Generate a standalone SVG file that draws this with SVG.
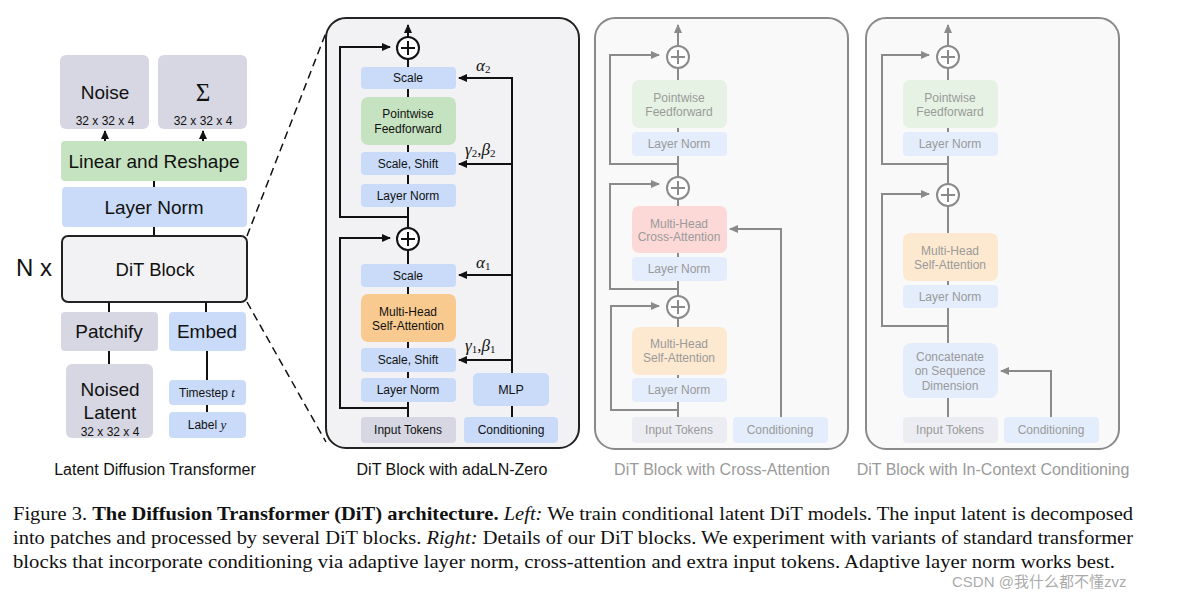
<svg xmlns="http://www.w3.org/2000/svg" width="1184" height="592" viewBox="0 0 1184 592">
<defs>
<marker id="ab" markerUnits="userSpaceOnUse" markerWidth="9" markerHeight="8" refX="8" refY="4" orient="auto"><path d="M0,0 L9,4 L0,8 z" fill="#111"/></marker>
<marker id="ag" markerUnits="userSpaceOnUse" markerWidth="9" markerHeight="8" refX="8" refY="4" orient="auto"><path d="M0,0 L9,4 L0,8 z" fill="#8a8a8a"/></marker>
<style>
text{font-family:"Liberation Sans",Arial,sans-serif;text-anchor:middle;fill:#111}
.big{font-size:19px}
.sm{font-size:12px}
.s12{font-size:12px}
.g text,.gt{fill:#9a9a9a}
.blk{stroke:#111;stroke-width:2;fill:none}
.gry{stroke:#8a8a8a;stroke-width:2;fill:none}
.gray{fill:#d6d7e3}.blue{fill:#c9dbf9}.green{fill:#c6e3c1}.orange{fill:#f8ca8f}
.lgray{fill:#ecedf2}.lblue{fill:#e4edfc}.lgreen{fill:#e6f2e3}.lorange{fill:#fde9d0}.lpink{fill:#fcd9d7}
.math{font-family:"Liberation Serif","Times New Roman",serif;font-style:italic;font-size:17px;text-anchor:start}
.sub{font-size:11px;font-style:normal}
.cap{font-family:"Liberation Serif","Times New Roman",serif;font-size:19.5px;text-anchor:start}
</style>
</defs>
<rect width="1184" height="592" fill="#fff"/>

<!-- panel backgrounds -->
<g id="panel-adaln"><rect x="326" y="18" width="253" height="430" rx="20" fill="#f2f2f4" stroke="#222" stroke-width="2"/></g>
<g id="panel-cross"><rect x="595" y="18" width="253" height="431" rx="20" fill="#f9f9f9" stroke="#8a8a8a" stroke-width="2"/></g>
<g id="panel-incontext"><rect x="866" y="18" width="253" height="431" rx="20" fill="#f9f9f9" stroke="#8a8a8a" stroke-width="2"/></g>

<!-- connectors -->
<g id="connectors">
<path class="blk" d="M105,141 V131" marker-end="url(#ab)"/>
<path class="blk" d="M203,141 V131" marker-end="url(#ab)"/>
<path class="blk" d="M154,181 V187 M154,227 V236 M109,302 V312 M206,302 V312 M109,351 V364 M207,351 V380 M207,405 V412"/>
<path d="M247,236 L327,30 M247,302 L326,442" stroke="#111" stroke-width="1.5" stroke-dasharray="8,5" fill="none"/>
<!-- middle -->
<path class="blk" d="M408,417 V25" marker-end="url(#ab)"/>
<path class="blk" d="M408,217 H340 V47 H390" marker-end="url(#ab)"/>
<path class="blk" d="M408,408 H340 V238 H390" marker-end="url(#ab)"/>
<path class="blk" d="M512,417 V78 H459" marker-end="url(#ab)"/>
<path class="blk" d="M512,164 H459" marker-end="url(#ab)"/>
<path class="blk" d="M512,275 H459" marker-end="url(#ab)"/>
<path class="blk" d="M512,360 H459" marker-end="url(#ab)"/>
<!-- cross-attention -->
<path class="gry" d="M678,417 V25" marker-end="url(#ag)"/>
<path class="gry" d="M678,164 H610 V55 H659" marker-end="url(#ag)"/>
<path class="gry" d="M678,289 H610 V184 H659" marker-end="url(#ag)"/>
<path class="gry" d="M678,410 H611 V306 H659" marker-end="url(#ag)"/>
<path class="gry" d="M781,417 V229 H730" marker-end="url(#ag)"/>
<!-- in-context -->
<path class="gry" d="M948,417 V25" marker-end="url(#ag)"/>
<path class="gry" d="M948,164 H882 V55 H929" marker-end="url(#ag)"/>
<path class="gry" d="M948,326 H882 V194 H929" marker-end="url(#ag)"/>
<path class="gry" d="M1051,417 V371 H1001" marker-end="url(#ag)"/>
</g>

<!-- left panel -->
<g id="noise"><rect class="gray" x="60" y="55" width="89" height="74" rx="6"/><text class="big" x="105" y="99">Noise</text><text class="sm" x="105" y="125">32 x 32 x 4</text></g>
<g id="sigma"><rect class="gray" x="158" y="55" width="89" height="74" rx="6"/><text x="203" y="101" style="font-family:'Liberation Serif',serif;font-size:25px">Σ</text><text class="sm" x="203" y="125">32 x 32 x 4</text></g>
<g id="linear"><rect class="green" x="61" y="141" width="186" height="40" rx="4"/><text class="big" x="154" y="168">Linear and Reshape</text></g>
<g id="layernorm"><rect class="blue" x="62" y="187" width="185" height="40" rx="4"/><text class="big" x="154" y="214">Layer Norm</text></g>
<g id="ditblock"><rect x="62" y="236" width="185" height="66" rx="6" fill="#f2f2f4" stroke="#222" stroke-width="2"/><text x="155" y="276" style="font-size:18.5px">DiT Block</text></g>
<g id="nx"><text x="16" y="276" style="font-size:24px;text-anchor:start">N x</text></g>
<g id="patchify"><rect class="gray" x="61" y="312" width="97" height="39" rx="4"/><text class="big" x="109" y="338">Patchify</text></g>
<g id="embed"><rect class="blue" x="169" y="312" width="77" height="39" rx="4"/><text class="big" x="207" y="338">Embed</text></g>
<g id="noised"><rect class="gray" x="66" y="364" width="87" height="74" rx="6"/><text class="big" x="110" y="396">Noised</text><text class="big" x="110" y="419">Latent</text><text class="sm" x="110" y="436">32 x 32 x 4</text></g>
<g id="timestep"><rect class="blue" x="169" y="380" width="77" height="25" rx="4"/><text class="s12" x="207" y="397">Timestep <tspan style="font-family:'Liberation Serif',serif;font-style:italic;font-size:13px">t</tspan></text></g>
<g id="label"><rect class="blue" x="169" y="412" width="77" height="26" rx="4"/><text class="s12" x="207" y="429">Label <tspan style="font-family:'Liberation Serif',serif;font-style:italic;font-size:13px">y</tspan></text></g>
<text x="155" y="475" style="font-size:16px">Latent Diffusion Transformer</text>

<!-- middle panel nodes -->
<g id="adaln-nodes">
<g id="a-plus2"><circle cx="408" cy="48" r="11" fill="#fff" stroke="#111" stroke-width="2"/><path d="M401,48 H415 M408,41 V55" stroke="#111" stroke-width="2"/></g>
<g id="a-scale2"><rect class="blue" x="361" y="67" width="95" height="22" rx="4"/><text class="s12" x="408" y="82">Scale</text></g>
<g id="a-ff"><rect class="green" x="361" y="97" width="95" height="48" rx="7"/><text class="s12" x="408" y="118">Pointwise</text><text class="s12" x="408" y="133">Feedforward</text></g>
<g id="a-ss2"><rect class="blue" x="361" y="152" width="95" height="23" rx="4"/><text class="s12" x="408" y="168">Scale, Shift</text></g>
<g id="a-ln2"><rect class="blue" x="361" y="184" width="95" height="23" rx="4"/><text class="s12" x="408" y="200">Layer Norm</text></g>
<g id="a-plus1"><circle cx="408" cy="239" r="11" fill="#fff" stroke="#111" stroke-width="2"/><path d="M401,239 H415 M408,232 V246" stroke="#111" stroke-width="2"/></g>
<g id="a-scale1"><rect class="blue" x="361" y="264" width="95" height="23" rx="4"/><text class="s12" x="408" y="280">Scale</text></g>
<g id="a-msa"><rect class="orange" x="361" y="294" width="95" height="48" rx="7"/><text class="s12" x="408" y="316">Multi-Head</text><text class="s12" x="408" y="330">Self-Attention</text></g>
<g id="a-ss1"><rect class="blue" x="361" y="348" width="95" height="24" rx="4"/><text class="s12" x="408" y="364">Scale, Shift</text></g>
<g id="a-ln1"><rect class="blue" x="361" y="378" width="95" height="24" rx="4"/><text class="s12" x="408" y="394">Layer Norm</text></g>
<g id="a-input"><rect class="gray" x="361" y="417" width="95" height="26" rx="4"/><text class="s12" x="408" y="434">Input Tokens</text></g>
<g id="a-mlp"><rect class="blue" x="473" y="373" width="76" height="33" rx="5"/><text x="511" y="394" style="font-size:12.5px">MLP</text></g>
<g id="a-cond"><rect class="blue" x="464" y="417" width="94" height="26" rx="4"/><text class="s12" x="511" y="434">Conditioning</text></g>
<text class="math" x="476" y="71">α<tspan class="sub" dy="2">2</tspan></text>
<text class="math" x="465" y="155">γ<tspan class="sub" dy="2">2</tspan><tspan dy="-2" style="font-style:normal">,</tspan>β<tspan class="sub" dy="2">2</tspan></text>
<text class="math" x="476" y="268">α<tspan class="sub" dy="2">1</tspan></text>
<text class="math" x="465" y="351">γ<tspan class="sub" dy="2">1</tspan><tspan dy="-2" style="font-style:normal">,</tspan>β<tspan class="sub" dy="2">1</tspan></text>
</g>
<text x="452" y="475" style="font-size:16px">DiT Block with adaLN-Zero</text>

<!-- cross-attention nodes -->
<g class="g" id="cross-nodes">
<g id="c-plus3"><circle cx="678" cy="57" r="11" fill="#fff" stroke="#8a8a8a" stroke-width="2"/><path d="M671,57 H685 M678,50 V64" stroke="#8a8a8a" stroke-width="2"/></g>
<g id="c-ff"><rect class="lgreen" x="632" y="80" width="95" height="48" rx="7"/><text class="s12" x="679" y="102">Pointwise</text><text class="s12" x="679" y="116">Feedforward</text></g>
<g id="c-ln3"><rect class="lblue" x="632" y="132" width="95" height="24" rx="4"/><text class="s12" x="679" y="148">Layer Norm</text></g>
<g id="c-plus2"><circle cx="678" cy="188" r="11" fill="#fff" stroke="#8a8a8a" stroke-width="2"/><path d="M671,188 H685 M678,181 V195" stroke="#8a8a8a" stroke-width="2"/></g>
<g id="c-mca"><rect class="lpink" x="632" y="206" width="95" height="47" rx="7"/><text class="s12" x="679" y="228">Multi-Head</text><text class="s12" x="679" y="241">Cross-Attention</text></g>
<g id="c-ln2"><rect class="lblue" x="632" y="257" width="95" height="24" rx="4"/><text class="s12" x="679" y="273">Layer Norm</text></g>
<g id="c-plus1"><circle cx="678" cy="307" r="11" fill="#fff" stroke="#8a8a8a" stroke-width="2"/><path d="M671,307 H685 M678,300 V314" stroke="#8a8a8a" stroke-width="2"/></g>
<g id="c-msa"><rect class="lorange" x="632" y="327" width="95" height="48" rx="7"/><text class="s12" x="679" y="348">Multi-Head</text><text class="s12" x="679" y="362">Self-Attention</text></g>
<g id="c-ln1"><rect class="lblue" x="632" y="378" width="95" height="24" rx="4"/><text class="s12" x="679" y="394">Layer Norm</text></g>
<g id="c-input"><rect class="lgray" x="632" y="417" width="95" height="26" rx="4"/><text class="s12" x="679" y="434">Input Tokens</text></g>
<g id="c-cond"><rect class="lblue" x="733" y="417" width="95" height="26" rx="4"/><text class="s12" x="780" y="434">Conditioning</text></g>
</g>
<text class="gt" x="722" y="475" style="font-size:16px">DiT Block with Cross-Attention</text>

<!-- in-context nodes -->
<g class="g" id="incontext-nodes">
<g id="i-plus2"><circle cx="948" cy="57" r="11" fill="#fff" stroke="#8a8a8a" stroke-width="2"/><path d="M941,57 H955 M948,50 V64" stroke="#8a8a8a" stroke-width="2"/></g>
<g id="i-ff"><rect class="lgreen" x="903" y="80" width="95" height="48" rx="7"/><text class="s12" x="950" y="102">Pointwise</text><text class="s12" x="950" y="116">Feedforward</text></g>
<g id="i-ln2"><rect class="lblue" x="903" y="132" width="95" height="24" rx="4"/><text class="s12" x="950" y="148">Layer Norm</text></g>
<g id="i-plus1"><circle cx="948" cy="195" r="11" fill="#fff" stroke="#8a8a8a" stroke-width="2"/><path d="M941,195 H955 M948,188 V202" stroke="#8a8a8a" stroke-width="2"/></g>
<g id="i-msa"><rect class="lorange" x="903" y="233" width="95" height="48" rx="7"/><text class="s12" x="950" y="255">Multi-Head</text><text class="s12" x="950" y="269">Self-Attention</text></g>
<g id="i-ln1"><rect class="lblue" x="903" y="285" width="95" height="23" rx="4"/><text class="s12" x="950" y="301">Layer Norm</text></g>
<g id="i-concat"><rect class="lblue" x="903" y="343" width="95" height="55" rx="8"/><text class="s12" x="950" y="361">Concatenate</text><text class="s12" x="950" y="375">on Sequence</text><text class="s12" x="950" y="390">Dimension</text></g>
<g id="i-input"><rect class="lgray" x="903" y="417" width="95" height="26" rx="4"/><text class="s12" x="950" y="434">Input Tokens</text></g>
<g id="i-cond"><rect class="lblue" x="1004" y="417" width="95" height="26" rx="4"/><text class="s12" x="1051" y="434">Conditioning</text></g>
</g>
<text class="gt" x="993" y="475" style="font-size:16px">DiT Block with In-Context Conditioning</text>

<!-- caption -->
<text class="cap" x="13" y="520" textLength="1120" lengthAdjust="spacingAndGlyphs">Figure 3. <tspan font-weight="bold">The Diffusion Transformer (DiT) architecture.</tspan> <tspan font-style="italic">Left:</tspan> We train conditional latent DiT models. The input latent is decomposed</text>
<text class="cap" x="13" y="544" textLength="1120" lengthAdjust="spacingAndGlyphs">into patches and processed by several DiT blocks. <tspan font-style="italic">Right:</tspan> Details of our DiT blocks. We experiment with variants of standard transformer</text>
<text class="cap" x="13" y="568" textLength="1102" lengthAdjust="spacingAndGlyphs">blocks that incorporate conditioning via adaptive layer norm, cross-attention and extra input tokens. Adaptive layer norm works best.</text>
<text x="952" y="587" style="font-family:'Liberation Sans','Noto Sans CJK SC',sans-serif;font-size:15px;text-anchor:start;fill:#9a9a9a;fill-opacity:0.85">CSDN @我什么都不懂zvz</text>
</svg>
